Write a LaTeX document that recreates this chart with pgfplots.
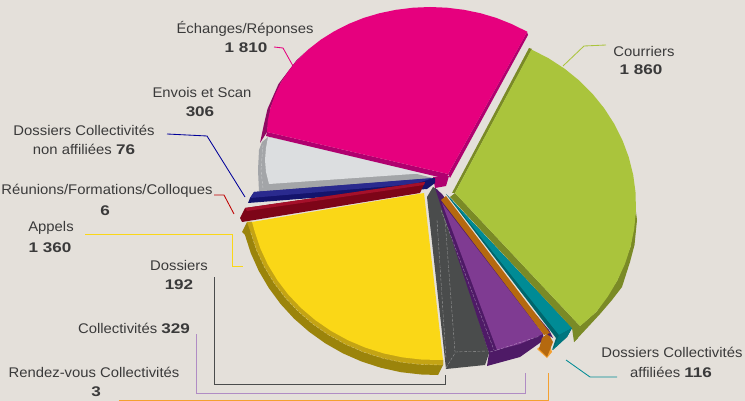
\documentclass[border=0pt]{standalone}
\usepackage{pgfplots}
\pgfplotsset{compat=1.18}
\usepackage{fontspec}
\setmainfont{Liberation Sans}[FakeStretch=1.06,BoldFeatures={FakeStretch=1.22}]
\definecolor{bg}{HTML}{E4E0DA}
\definecolor{pk}{HTML}{E6007E}
\definecolor{pkw}{HTML}{B0006F}
\definecolor{pkd}{HTML}{8F0A62}
\definecolor{gr}{HTML}{DCDEE0}
\definecolor{grw}{HTML}{A3A5A8}
\definecolor{bl}{HTML}{2A2A8E}
\definecolor{bld}{HTML}{14146C}
\definecolor{rd}{HTML}{7D0518}
\definecolor{rdl}{HTML}{A5102A}
\definecolor{ye}{HTML}{FAD717}
\definecolor{yew}{HTML}{9B840B}
\definecolor{yem}{HTML}{C4A414}
\definecolor{dg}{HTML}{4A4C4C}
\definecolor{pu}{HTML}{7F3B92}
\definecolor{puw}{HTML}{4E1A66}
\definecolor{pul}{HTML}{B08CC4}
\definecolor{or}{HTML}{B5690F}
\definecolor{orl}{HTML}{F4A030}
\definecolor{te}{HTML}{008B95}
\definecolor{tew}{HTML}{00666C}
\definecolor{gn}{HTML}{AAC43C}
\definecolor{gnw}{HTML}{7A8A26}
\definecolor{tx}{HTML}{3A3A3A}
\newcommand\Pg[2]{\addplot[fill=#1,draw=none,forget plot] coordinates {#2} -- cycle;}
\newcommand\Ln[2]{\addplot[draw=#1,line width=0.85pt,forget plot] coordinates {#2};}
\newcommand\Ds[1]{\addplot[draw=white,opacity=0.45,line width=0.35pt,dash pattern=on 3pt off 1.5pt,forget plot] coordinates {#1};}
\newcommand\Lb[3]{\node[text=tx,font=\fontsize{14}{16}\selectfont,anchor=center,inner sep=0pt] at (axis cs:#1,#2) {#3};}
\begin{document}
\begin{tikzpicture}
\begin{axis}[at={(0,0)},anchor=south west,width=745pt,height=401pt,scale only axis,
  xmin=0,xmax=745,ymin=0,ymax=401,y dir=reverse,hide axis,clip=true]
% background
\Pg{bg}{(0,0)(745,0)(745,401)(0,401)}
% leaders
\Ln{gn}{(563,66)(584,46)(606,45)}
\Ln{pk}{(274,47)(283,48)(293,66)}
\Ln{blue!60!black}{(167,134)(207,136)(245,197)}
\Ln{red!75!black}{(214,195)(224,195)(234,214)}
\Ln{ye}{(85,234)(232,234)(232,266)(243,266)}
\Ln{dg}{(214,277)(214,384)(445,384)(445,375)}
\Ln{pul}{(196,334)(196,393)(525,393)(525,373)}
\Ln{orl}{(119,400)(548,400)(548,373)}
\Ln{te}{(566,360)(590,377)(617,377)}
% grey slice
\Pg{grw}{(259,192)(258,170)(259,150)(262,142)(268,137)(433,178)(268,191)}
\Pg{gr}{(268,137)(427,173)(269,184)(266,172)(265,160)(266,148)}
\Ds{(263,145)(261,170)(263,188)}
% pink walls
\Pg{pkd}{(260,143)(264,124)(267.5,109)(278.5,84)(296.5,60.3)(308.9,49)(298.1,59.3)(281.1,82.3)(270.6,107.6)(267,132)}
\Pg{pkw}{(267,132)(448,174)(447,179)(266,136)}
\Pg{pkw}{(433,177)(449,176)(446,186)(435,188)}
\Pg{pkw}{(527,32)(528,35)(450,178)(448,174)}
\Pg{pk}{(527.3,31.7)(511.5,24)(496.3,17.9)(480.4,13.2)(463.9,9.8)(447,7.7)(430,7)(413,7.7)(396.1,9.8)(379.6,13.2)(363.7,17.9)(348.5,24)(334.2,31.3)(320.9,39.6)(308.9,49)(298.1,59.3)(288.8,70.5)(281.1,82.3)(275,94.8)(270.6,107.6)(267.8,120.7)(267,132)(448,174)}
% blue
\Pg{bld}{(254,192)(435,178)(435,183)(427,189)(248,203)(250,198)}
\Pg{bl}{(254,192)(433,178)(415,184)(250,198)}
% red
\Pg{rd}{(245,208)(425,182)(420,193)(242,222)(240,218)}
\Pg{rdl}{(245,208)(425,182)(424,185)(247,211)}
% yellow
\Pg{yew}{(247,222)(242,232)(244.9,234.8)(250.8,253.2)(258.8,271)(268.8,288)(280.6,304)(294,318.6)(309,331.7)(325.4,343.4)(343,353.4)(361.5,361.5)(381,367.8)(400.9,372.2)(421.3,374.5)(438,375)(443,365)(443,360)(252,222)}
\Pg{yem}{(247,222)(250.7,232.3)(256.4,249.9)(264.2,266.7)(273.9,282.7)(285.3,297.8)(298.4,311.6)(312.9,324.1)(328.8,335.1)(345.9,344.5)(363.8,352.2)(382.6,358.2)(402,362.4)(421.7,364.6)(443,365)(443,360)(252,222)}
\Pg{ye}{(424,193)(443,360)(422,359.6)(402.7,357.4)(383.7,353.4)(365.3,347.6)(347.7,340.1)(331,330.9)(315.4,320.2)(301.2,308.1)(288.4,294.7)(277.3,280.1)(267.8,264.5)(260.2,248.1)(254.6,231.1)(252,222)}
\Ds{(250.7,232.3)(256.4,249.9)(264.2,266.7)(273.9,282.7)(285.3,297.8)(298.4,311.6)(312.9,324.1)(328.8,335.1)(345.9,344.5)(363.8,352.2)(382.6,358.2)(402,362.4)(421.7,364.6)(443,365)}
% dark grey
\Pg{dg}{(433,187)(427,197)(446,369)(485,365)(489,353)(438,190)}
\Ds{(437,220)(446,358)}
\Ds{(445,220)(455,352)}
\Ds{(455,352)(487,351)}
\Ds{(446,368)(455,353)}
% purple
\Pg{puw}{(435,188)(442,194)(543,334)(544,340)(520,357)(487,366)(489,353)}
\Pg{pu}{(442,203)(543,334)(520,344)(497,350)}
\Ds{(441,210)(494,350)}
\Ds{(497,350)(540,336)}
\Ds{(490,352)(497,350)}
% orange
\Pg{orl}{(537,349)(547,358)(552,352)(548,340)}
\Pg{or}{(548,333)(553,342)(547,357)(539,349)(542,338)}
\Pg{puw}{(515,290)(549,330)(553,338)(548,335)}
\Pg{or}{(441,200)(446,196)(550,333)(544,335)}
% teal
\Pg{tew}{(446,194)(449,197)(572,328)(567,337)(552,350)(556,338)}
\Pg{te}{(449,197)(572,328)(559,335)}
\Pg{te!85!black}{(559,335)(572,328)(567,337)(553,350)}
% green
\Pg{gnw}{(450,197)(455,193)(580,326)(578,338)(574,342)(572,328)}
\Pg{gnw}{(529,48)(532,49)(455,193)(452,193)}
\Pg{gnw}{(635.9,211)(637,220)(634.5,245)(630,262)(622,287)(612,300)(600,314)(588,327)(574,342)(580,326)(596.6,311.6)(617.2,280.8)(630.5,246.9)}
\Pg{gn}{(531.5,49.5)(548.6,58.3)(564.6,68.7)(579.3,80.6)(592.5,93.8)(604.2,108.3)(614.2,123.8)(622.4,140.1)(628.8,157.3)(633.2,174.9)(635.6,192.9)(635.9,211)(634.2,229.1)(630.5,246.9)(624.8,264.2)(617.2,280.8)(607.7,296.7)(596.6,311.6)(583.7,323)(580,326)(455,193)}
% labels
\Lb{245}{29}{Échanges/Réponses}
\Lb{246}{48}{\textbf{1 810}}
\Lb{202}{92}{Envois et Scan}
\Lb{200}{112}{\textbf{306}}
\Lb{84}{130}{Dossiers Collectivités}
\Lb{84}{149}{non affiliées \textbf{76}}
\Lb{107}{191}{Réunions/Formations/Colloques}
\Lb{105}{211}{\textbf{6}}
\Lb{51}{228}{Appels}
\Lb{50}{248}{\textbf{1 360}}
\Lb{179}{265}{Dossiers}
\Lb{179}{285}{\textbf{192}}
\Lb{134}{328}{Collectivités \textbf{329}}
\Lb{94}{372}{Rendez-vous Collectivités}
\Lb{96}{392}{\textbf{3}}
\Lb{644}{51}{Courriers}
\Lb{641}{70}{\textbf{1 860}}
\Lb{672}{352}{Dossiers Collectivités}
\Lb{671}{372}{affiliées \textbf{116}}
\end{axis}
\end{tikzpicture}
\end{document}
